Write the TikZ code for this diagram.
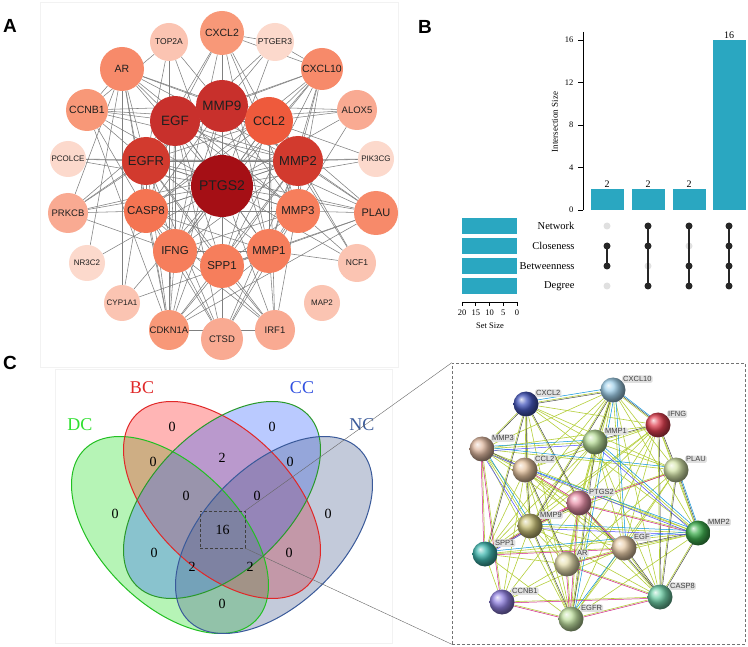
\documentclass[tikz,border=0pt]{standalone}
\usepackage{fontspec}
\setmainfont{Liberation Serif}
\setsansfont{Liberation Sans}
\usetikzlibrary{calc}
\pgfdeclarelayer{bg}
\pgfsetlayers{bg,main}
\newcommand\myfs[1]{\fontsize{#1}{#1}\selectfont}
\definecolor{aA}{HTML}{A50F15}
\definecolor{aB}{HTML}{C8302C}
\definecolor{aC}{HTML}{D23A2E}
\definecolor{aD}{HTML}{EE5A3C}
\definecolor{aE}{HTML}{F47452}
\definecolor{aF}{HTML}{F67E5C}
\definecolor{aG}{HTML}{F78A6A}
\definecolor{aH}{HTML}{F89878}
\definecolor{aI}{HTML}{F9AA92}
\definecolor{aJ}{HTML}{FBC4B2}
\definecolor{aK}{HTML}{FCD9CC}
\definecolor{barc}{HTML}{2AA7C1}
\definecolor{dcc}{HTML}{22C022}
\definecolor{dcf}{HTML}{22E022}
\definecolor{bcc}{HTML}{E02828}
\definecolor{bcf}{HTML}{FF2020}
\definecolor{ccc}{HTML}{2A9A2A}
\definecolor{ccf}{HTML}{3060FF}
\definecolor{ncc}{HTML}{3A5A9A}
\definecolor{ncf}{HTML}{4A5F8F}
\definecolor{lblue}{HTML}{3050E0}
\definecolor{lgreen}{HTML}{30E030}
\definecolor{ylwc}{HTML}{B5CF3A}
\newcommand\mkanode[6]{\node[anode, fill=#5, minimum size=#4pt*2, font=\sffamily\myfs{#6}] (#1) at (#2,#3) {#1};}
\begin{document}
\begin{tikzpicture}[x=1pt,y=-1pt,
 anode/.style={circle,inner sep=0pt,text=black!88},
 aedge/.style={draw=black!50,line width=0.55pt},
 plab/.style={font=\sffamily\bfseries\myfs{19}},
 vnum/.style={font=\myfs{14}},
 vlab/.style={font=\myfs{18}},
 dotk/.style={circle,fill=black!85,inner sep=0pt,minimum size=7pt},
 dotg/.style={circle,fill=black!12,inner sep=0pt,minimum size=7pt},
 rowl/.style={anchor=east,font=\myfs{10.5}},
 tickl/.style={font=\myfs{8.5}},
 sph/.style={circle,inner sep=0pt,minimum size=25pt,shading=ball},
 slab/.style={anchor=south west,fill=black!12,rounded corners=1.5pt,inner sep=1pt,font=\sffamily\myfs{7.5},text=black!75},
 ylw/.style={draw=ylwc,line width=0.6pt},
 blkl/.style={draw=black!75,line width=0.45pt},
 magl/.style={draw=magenta!85!black,line width=0.5pt},
 cyal/.style={draw=cyan!80!blue,line width=0.5pt},
 blul/.style={draw=blue!70,line width=0.5pt}]
\useasboundingbox (0,0) rectangle (748,647);
\begin{pgfonlayer}{bg}
\fill[white] (0,0) rectangle (748,647);
\end{pgfonlayer}

% ---------------- Panel A ----------------
\node[plab] (labA) at (10,26) {A};
\mkanode{PTGS2}{222}{186}{31}{aA}{14}
\mkanode{MMP9}{222}{106}{26}{aB}{13.5}
\mkanode{CCL2}{269}{121}{24}{aD}{12.5}
\mkanode{MMP2}{298}{161}{25}{aC}{13}
\mkanode{MMP3}{298}{211}{22}{aF}{11.5}
\mkanode{MMP1}{269}{251}{22}{aF}{11.5}
\mkanode{SPP1}{222}{266}{22}{aF}{11.5}
\mkanode{IFNG}{175}{251}{22}{aF}{11.5}
\mkanode{CASP8}{146}{211}{22}{aE}{11.5}
\mkanode{EGFR}{146}{161}{24}{aC}{13}
\mkanode{EGF}{175}{121}{25}{aB}{13.5}
\mkanode{CXCL2}{222}{33}{22}{aH}{10.5}
\mkanode{PTGER3}{275}{42}{19}{aK}{8.5}
\mkanode{CXCL10}{322}{69}{21}{aG}{10.5}
\mkanode{ALOX5}{357}{110}{20}{aI}{9.5}
\mkanode{PIK3CG}{376}{159}{18}{aK}{8}
\mkanode{PLAU}{376}{213}{22}{aG}{11}
\mkanode{NCF1}{357}{263}{19}{aJ}{8.5}
\mkanode{MAP2}{322}{303}{18}{aJ}{8}
\mkanode{IRF1}{275}{330}{20}{aI}{9.5}
\mkanode{CTSD}{222}{339}{21}{aI}{9.5}
\mkanode{CDKN1A}{169}{330}{20}{aH}{9.5}
\mkanode{CYP1A1}{122}{303}{18}{aJ}{8}
\mkanode{NR3C2}{87}{263}{18}{aK}{8}
\mkanode{PRKCB}{68}{213}{20}{aI}{9.5}
\mkanode{PCOLCE}{68}{159}{18}{aK}{8}
\mkanode{CCNB1}{87}{110}{21}{aH}{10.5}
\mkanode{AR}{122}{69}{22}{aG}{10.5}
\mkanode{TOP2A}{169}{42}{19}{aJ}{8.5}
\begin{pgfonlayer}{bg}
\draw[black!5,line width=0.4pt] (40,2) rectangle (398,367);
\foreach \b in {MMP9,CCL2,MMP2,MMP3,MMP1,SPP1,IFNG,CASP8,EGFR,EGF,CXCL2,PTGER3,CXCL10,ALOX5,PIK3CG,PLAU,NCF1,IRF1,CTSD,CDKN1A,CYP1A1,NR3C2,PRKCB,PCOLCE,CCNB1,AR,TOP2A}
  \draw[aedge] (PTGS2) -- (\b);
\foreach \a [count=\i] in {MMP9,CCL2,MMP2,MMP3,MMP1,SPP1,IFNG,CASP8,EGFR,EGF}{
  \foreach \b [count=\j] in {MMP9,CCL2,MMP2,MMP3,MMP1,SPP1,IFNG,CASP8,EGFR,EGF}{
    \ifnum\j>\i \draw[aedge] (\a) -- (\b); \fi }}
\foreach \a/\b in {TOP2A/CCNB1,TOP2A/EGFR,TOP2A/CDKN1A,TOP2A/MMP9,
 AR/EGF,AR/EGFR,AR/MMP9,AR/CASP8,AR/MMP2,AR/CCNB1,AR/CDKN1A,AR/CYP1A1,AR/PRKCB,AR/NR3C2,AR/MMP3,AR/CCL2,
 CXCL2/MMP9,CXCL2/CCL2,CXCL2/CXCL10,CXCL2/IFNG,CXCL2/MMP1,CXCL2/EGFR,CXCL2/PTGER3,CXCL2/MMP3,CXCL2/EGF,
 PTGER3/CXCL10,PTGER3/EGFR,PTGER3/MMP9,
 CXCL10/CCL2,CXCL10/IFNG,CXCL10/MMP9,CXCL10/MMP1,CXCL10/SPP1,CXCL10/CASP8,CXCL10/IRF1,CXCL10/EGF,CXCL10/MMP2,
 ALOX5/MMP9,ALOX5/CCL2,ALOX5/MMP1,ALOX5/EGF,
 PIK3CG/MMP2,PIK3CG/CCL2,PIK3CG/EGFR,
 PLAU/MMP2,PLAU/MMP3,PLAU/MMP1,PLAU/MMP9,PLAU/EGFR,PLAU/EGF,PLAU/CDKN1A,PLAU/CCL2,PLAU/SPP1,
 NCF1/MMP3,NCF1/CCL2,NCF1/MMP1,NCF1/MMP2,
 IRF1/IFNG,IRF1/CASP8,IRF1/CCL2,IRF1/MMP1,IRF1/CDKN1A,IRF1/EGFR,IRF1/SPP1,
 CTSD/MMP1,CTSD/EGF,CTSD/MMP2,CTSD/CASP8,CTSD/SPP1,CTSD/EGFR,CTSD/IFNG,CTSD/MMP9,CTSD/MMP3,
 CDKN1A/EGFR,CDKN1A/CASP8,CDKN1A/EGF,CDKN1A/MMP1,CDKN1A/CCNB1,CDKN1A/IFNG,CDKN1A/SPP1,CDKN1A/MMP2,CDKN1A/MMP9,
 CYP1A1/EGFR,CYP1A1/MMP1,
 PRKCB/EGFR,PRKCB/EGF,PRKCB/CASP8,PRKCB/MMP9,PRKCB/MMP2,PRKCB/IFNG,
 PCOLCE/EGFR,PCOLCE/MMP2,
 CCNB1/EGFR,CCNB1/CASP8,CCNB1/MMP2,CCNB1/EGF,CCNB1/MMP9,CCNB1/CCL2}
  \draw[aedge] (\a) -- (\b);
\end{pgfonlayer}

% ---------------- Panel B ----------------
\node[plab] (labB) at (425,27) {B};
\draw[line width=0.7pt] (583,32) -- (583,210);
\foreach \v/\y in {0/210,4/167.5,8/125,12/82.5,16/40}{
  \draw[line width=0.6pt] (583,\y) -- (578,\y);
  \node[tickl,anchor=east] at (577,\y) {\v};}
\node[font=\myfs{9},rotate=90] (isz) at (555,122) {Intersection Size};
\foreach \x/\t/\h in {607/2/188.75,648/2/188.75,689/2/188.75,729/16/40}{
  \fill[barc] (\x-16.5,\h) rectangle (\x+16.5,210);
  \node[font=\myfs{10},anchor=south,inner sep=1pt] at (\x,\h) {\t};}
\foreach \n/\y in {Network/226,Closeness/246,Betweenness/266,Degree/286}{
  \node[rowl] at (578,\y) {\n};
  \fill[barc] (462,\y-8) rectangle (517,\y+8);}
\draw[line width=0.6pt] (462,302) -- (517,302);
\foreach \x/\v in {462/20,475.75/15,489.5/10,503.25/5,517/0}{
  \draw[line width=0.6pt] (\x,302) -- (\x,306);
  \node[tickl] at (\x,313) {\v};}
\node[font=\myfs{8.5}] (ssz) at (490,326) {Set Size};
% matrix
\node[dotg] (d11) at (607,226) {};
\node[dotk] (d12) at (607,246) {};
\node[dotk] (d13) at (607,266) {};
\node[dotg] (d14) at (607,286) {};
\node[dotk] (d21) at (648,226) {};
\node[dotk] (d22) at (648,246) {};
\node[dotg] (d23) at (648,266) {};
\node[dotk] (d24) at (648,286) {};
\node[dotk] (d31) at (689,226) {};
\node[dotg] (d32) at (689,246) {};
\node[dotk] (d33) at (689,266) {};
\node[dotk] (d34) at (689,286) {};
\node[dotk] (d41) at (729,226) {};
\node[dotk] (d42) at (729,246) {};
\node[dotk] (d43) at (729,266) {};
\node[dotk] (d44) at (729,286) {};
\draw[line width=1.3pt,black!85] (d12.center) -- (d13.center);
\draw[line width=1.3pt,black!85] (d21.center) -- (d24.center);
\draw[line width=1.3pt,black!85] (d31.center) -- (d34.center);
\draw[line width=1.3pt,black!85] (d41.center) -- (d44.center);

% ---------------- Panel C : Venn ----------------
\node[plab] (labC) at (10,363) {C};
\draw[black!5,line width=0.4pt] (55,369) rectangle (392,643);
\fill[dcf,fill opacity=0.33,rotate around={-45:(170,535)}] (170,535) ellipse [x radius=121pt,y radius=69pt];
\fill[bcf,fill opacity=0.33,rotate around={-45:(222,500)}] (222,500) ellipse [x radius=121pt,y radius=69pt];
\fill[ccf,fill opacity=0.33,rotate around={45:(222,500)}] (222,500) ellipse [x radius=121pt,y radius=69pt];
\fill[ncf,fill opacity=0.33,rotate around={45:(274,535)}] (274,535) ellipse [x radius=121pt,y radius=69pt];
\draw[dcc,line width=1pt,rotate around={-45:(170,535)}] (170,535) ellipse [x radius=121pt,y radius=69pt];
\draw[bcc,line width=1pt,rotate around={-45:(222,500)}] (222,500) ellipse [x radius=121pt,y radius=69pt];
\draw[ccc,line width=1pt,rotate around={45:(222,500)}] (222,500) ellipse [x radius=121pt,y radius=69pt];
\draw[ncc,line width=1pt,rotate around={45:(274,535)}] (274,535) ellipse [x radius=121pt,y radius=69pt];
\node[vlab,text=bcc] (tBC) at (142,388) {BC};
\node[vlab,text=lblue] (tCC) at (302,388) {CC};
\node[vlab,text=lgreen] (tDC) at (80,425) {DC};
\node[vlab,text=ncc] (tNC) at (362,425) {NC};
\foreach \x/\y/\t in {115/514/0,172/427/0,272/427/0,328/514/0,153/462/0,222/458/2,290/462/0,186/496/0,257/496/0,154/553/0,289/553/0,192/567/2,250/567/2,222/604/0}
  \node[vnum] at (\x,\y) {\t};
\node[vnum,draw=black!75,densely dashed,line width=0.4pt,minimum width=45pt,minimum height=37pt,inner sep=0pt] (zrect) at (222.5,529.5) {16};

% ---------------- Panel C : STRING ----------------
\node[draw=black!55,densely dashed,line width=0.5pt,minimum width=293pt,minimum height=281pt,inner sep=0pt] (sbox) at (598.5,503.5) {};
\draw[black!60,line width=0.4pt] (zrect.north east) -- (sbox.north west);
\draw[black!60,line width=0.4pt] (zrect.south east) -- (sbox.south west);

\node[sph,ball color={rgb,255:red,160;green,208;blue,234}] (scx10) at (613,390) {};
\node[sph,ball color={rgb,255:red,70;green,88;blue,190}] (scx2) at (526,404) {};
\node[sph,ball color={rgb,255:red,224;green,64;blue,80}] (sifng) at (658,425) {};
\node[sph,ball color={rgb,255:red,184;green,220;blue,152}] (smmp1) at (595,442) {};
\node[sph,ball color={rgb,255:red,223;green,184;blue,160}] (smmp3) at (482,449) {};
\node[sph,ball color={rgb,255:red,230;green,196;blue,160}] (sccl2) at (525,470) {};
\node[sph,ball color={rgb,255:red,212;green,228;blue,168}] (splau) at (676,470) {};
\node[sph,ball color={rgb,255:red,232;green,144;blue,168}] (sptgs2) at (579,503) {};
\node[sph,ball color={rgb,255:red,200;green,192;blue,120}] (smmp9) at (530,526) {};
\node[sph,ball color={rgb,255:red,64;green,184;blue,176}] (sspp1) at (485,554) {};
\node[sph,ball color={rgb,255:red,64;green,176;blue,80}] (smmp2) at (698,533) {};
\node[sph,ball color={rgb,255:red,232;green,204;blue,168}] (segf) at (624,548) {};
\node[sph,ball color={rgb,255:red,232;green,224;blue,176}] (sar) at (567,564) {};
\node[sph,ball color={rgb,255:red,144;green,128;blue,224}] (sccnb1) at (502,602) {};
\node[sph,ball color={rgb,255:red,112;green,208;blue,168}] (scasp8) at (660,597) {};
\node[sph,ball color={rgb,255:red,192;green,224;blue,160}] (segfr) at (571,619) {};
\foreach \n/\t in {cx10/CXCL10,cx2/CXCL2,ifng/IFNG,mmp1/MMP1,mmp3/MMP3,ccl2/CCL2,plau/PLAU,ptgs2/PTGS2,mmp9/MMP9,spp1/SPP1,mmp2/MMP2,egf/EGF,ar/AR,ccnb1/CCNB1,casp8/CASP8,egfr/EGFR}
  \node[slab] (l\n) at ($(s\n)+(9,-7)$) {\t};

\begin{pgfonlayer}{bg}
\foreach \a/\b in {cx10/cx2,cx10/ifng,cx10/mmp1,cx10/mmp3,cx10/ccl2,cx10/plau,cx10/ptgs2,cx10/mmp9,cx10/spp1,cx10/mmp2,cx10/egf,cx10/casp8,cx10/egfr,cx10/ar,
 cx2/mmp3,cx2/ccl2,cx2/mmp1,cx2/ifng,cx2/ptgs2,cx2/mmp9,cx2/spp1,cx2/egfr,cx2/mmp2,cx2/plau,
 ifng/mmp1,ifng/ccl2,ifng/plau,ifng/ptgs2,ifng/mmp9,ifng/mmp2,ifng/egf,ifng/casp8,ifng/egfr,ifng/spp1,ifng/mmp3,ifng/ar,
 mmp1/mmp3,mmp1/ccl2,mmp1/plau,mmp1/ptgs2,mmp1/mmp9,mmp1/spp1,mmp1/mmp2,mmp1/egf,mmp1/ar,mmp1/casp8,mmp1/egfr,
 mmp3/ccl2,mmp3/ptgs2,mmp3/mmp9,mmp3/spp1,mmp3/mmp2,mmp3/egf,mmp3/ar,mmp3/ccnb1,mmp3/egfr,mmp3/plau,
 ccl2/ptgs2,ccl2/mmp9,ccl2/spp1,ccl2/mmp2,ccl2/egf,ccl2/ar,ccl2/egfr,ccl2/ccnb1,ccl2/casp8,
 plau/ptgs2,plau/mmp9,plau/mmp2,plau/egf,plau/casp8,plau/egfr,plau/ar,
 ptgs2/mmp9,ptgs2/spp1,ptgs2/mmp2,ptgs2/egf,ptgs2/ar,ptgs2/ccnb1,ptgs2/casp8,ptgs2/egfr,
 mmp9/spp1,mmp9/mmp2,mmp9/egf,mmp9/ar,mmp9/egfr,mmp9/casp8,mmp9/ccnb1,
 spp1/egf,spp1/ar,spp1/egfr,spp1/mmp2,spp1/ccnb1,
 mmp2/egf,mmp2/casp8,mmp2/egfr,mmp2/ar,
 egf/ar,egf/casp8,egf/egfr,egf/ccnb1,ar/ccnb1,ar/egfr,ar/casp8,ccnb1/egfr,ccnb1/casp8,casp8/egfr}
  \draw[ylw] (s\a) -- (s\b);
\foreach \a/\b in {cx10/cx2,cx10/ifng,cx2/mmp3,cx2/ccl2,cx10/mmp1,mmp1/ifng,ptgs2/mmp9,mmp9/spp1,egf/casp8,mmp2/casp8,plau/mmp2,ccl2/mmp9,cx10/mmp9,mmp9/egfr,ifng/casp8,plau/casp8,egf/mmp2,ptgs2/casp8,mmp1/egfr,cx2/ptgs2,mmp3/ccl2,ccl2/ar,ifng/plau,cx2/spp1}
  \draw[blkl] ($(s\a)!1.1pt!90:(s\b)$) -- ($(s\b)!1.1pt!-90:(s\a)$);
\foreach \a/\b in {ptgs2/egf,ptgs2/mmp2,ptgs2/spp1,ar/egfr,egfr/casp8,ccnb1/egfr,spp1/egf,ptgs2/mmp9,ccnb1/casp8,ar/egf,mmp3/ccnb1,mmp3/spp1,ar/casp8,ptgs2/ccl2,ptgs2/egfr,ptgs2/plau}
  \draw[magl] ($(s\a)!1.1pt!-90:(s\b)$) -- ($(s\b)!1.1pt!90:(s\a)$);
\foreach \a/\b in {mmp3/mmp1,cx10/ifng,cx2/cx10,mmp3/plau,ccl2/mmp2,egfr/egf,mmp9/mmp2,cx10/egf,cx10/egfr,plau/mmp2,mmp3/mmp9,spp1/mmp2,mmp1/mmp2}
  \draw[cyal] ($(s\a)!2.2pt!90:(s\b)$) -- ($(s\b)!2.2pt!-90:(s\a)$);
\foreach \a/\b in {mmp3/mmp1,mmp3/mmp2,mmp9/mmp2,mmp3/mmp9,mmp1/mmp2,spp1/mmp9}
  \draw[blul] ($(s\a)!2.2pt!-90:(s\b)$) -- ($(s\b)!2.2pt!90:(s\a)$);
\end{pgfonlayer}
\end{tikzpicture}
\end{document}
